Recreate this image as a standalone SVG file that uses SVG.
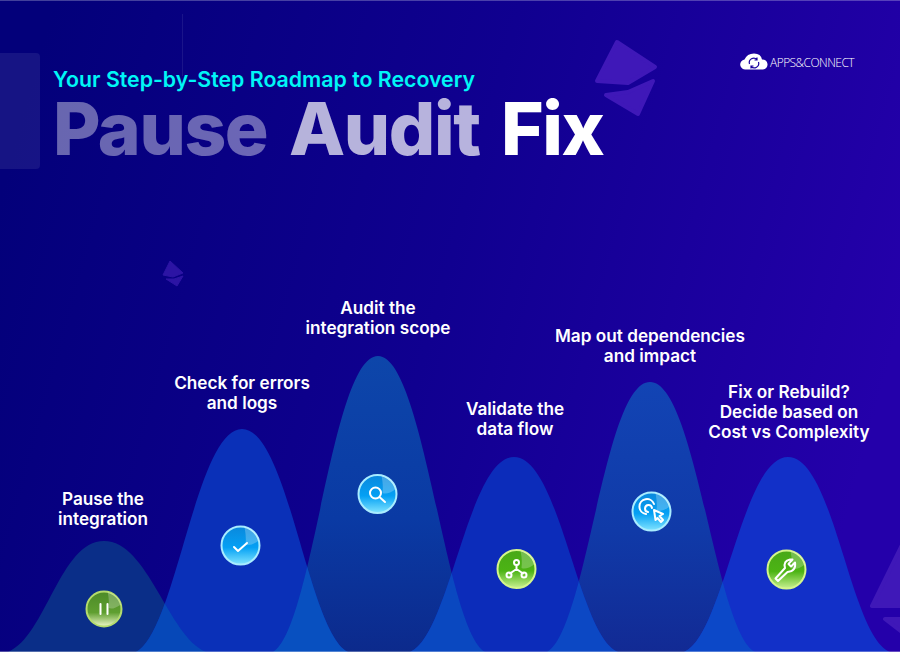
<svg xmlns="http://www.w3.org/2000/svg" width="900" height="652" viewBox="0 0 900 652">
<defs>
<linearGradient id="bg" x1="0" y1="0.3" x2="1" y2="0.5"><stop offset="0" stop-color="#03007a"/><stop offset="0.5" stop-color="#100090"/><stop offset="1" stop-color="#2400aa"/></linearGradient>
<linearGradient id="hill3g" x1="0" y1="0" x2="0" y2="1"><stop offset="0" stop-color="#0d46aa"/><stop offset="0.55" stop-color="#0a3aa4"/><stop offset="1" stop-color="#0c2a8c"/></linearGradient>
<linearGradient id="hill5g" x1="0" y1="0" x2="0" y2="1"><stop offset="0" stop-color="#1244b4"/><stop offset="0.55" stop-color="#103aa8"/><stop offset="1" stop-color="#122a94"/></linearGradient>
<linearGradient id="blue" x1="0" y1="0" x2="0" y2="1"><stop offset="0" stop-color="#0a88dc"/><stop offset="0.55" stop-color="#04a0f4"/><stop offset="1" stop-color="#80e4ff"/></linearGradient>
<linearGradient id="green" x1="0" y1="0" x2="0" y2="1"><stop offset="0" stop-color="#48a818"/><stop offset="0.55" stop-color="#4cb414"/><stop offset="1" stop-color="#c8f090"/></linearGradient>
<linearGradient id="olive" x1="0" y1="0" x2="0" y2="1"><stop offset="0" stop-color="#4c8a28"/><stop offset="0.6" stop-color="#5f9f30"/><stop offset="1" stop-color="#eef8c8"/></linearGradient>
<path id="h1" d="M8 652 C46 636 60 541 104 541 C148 541 168 636 206 652 Z"/>
<path id="h2" d="M136 652 C176 632 196 429 242 429 C288 429 308 632 348 652 Z"/>
<path id="h3" d="M273 652 C313 628 332 356 378 356 C424 356 445 628 485 652 Z"/>
<path id="h4" d="M410 652 C450 636 468 457 514 457 C560 457 578 636 618 652 Z"/>
<path id="h5" d="M547 652 C587 630 604 382 650 382 C696 382 715 630 755 652 Z"/>
<path id="h6" d="M684 652 C724 636 742 457 788 457 C834 457 850 636 890 652 Z"/>
<clipPath id="c1"><use href="#h1"/></clipPath>
<clipPath id="c3"><use href="#h3"/></clipPath>
<clipPath id="c5"><use href="#h5"/></clipPath>
<path id="gloss" d="M4 -18.500 A19 19 0 0 1 18.500 -5 Q10 1 5 -1 Q6 -8 4 -18.500 Z" fill="#fff" fill-opacity=".24"/>
</defs>
<style>
.lab{font-family:"Inter","Liberation Sans",sans-serif;font-weight:600;font-size:17.2px;fill:#fff;text-anchor:middle}
.ttl{font-family:"Inter","Liberation Sans",sans-serif;font-weight:800;font-size:73px;letter-spacing:-1.4px;fill:#fff}
.ringB{fill:url(#blue);stroke:#a8ecff;stroke-width:2}
.ringG{fill:url(#green);stroke:#d4f58c;stroke-width:2}
.ringO{fill:url(#olive);stroke:#b4dc6c;stroke-width:2}
.ico{fill:none;stroke:#fff;stroke-width:2;stroke-linecap:round;stroke-linejoin:round}
.deco{fill:#3f18b8;stroke:#3f18b8;stroke-width:4;stroke-linejoin:round}
</style>
<rect id="background" width="900" height="652" fill="url(#bg)"/>
<rect x="0" y="0" width="900" height="1" fill="#fff" fill-opacity=".25"/>
<g id="decor">
<rect x="-10" y="53" width="50" height="116" rx="4" fill="#fff" fill-opacity=".08"/>
<rect x="182" y="14" width="1" height="62" fill="#fff" fill-opacity=".08"/>
<path class="deco" d="M617 42 L655 67 L628 83 L597 81 Z M653 81 L638 114 L606 95 L628 92 Z"/>
<path class="deco" style="fill:#2c14a4;stroke:#2c14a4;stroke-width:1" d="M170 261 L183 273 L173 277 L163 275 Z M183 276 L177 286 L166 279 L174 279 Z"/>
<path class="deco" d="M902 545 L872 606 L902 606 Z M885 619 L902 619 L902 632 Z"/>
</g>
<g id="title">
<text x="53" y="87" font-family="Inter,'Liberation Sans',sans-serif" font-weight="600" font-size="21.300" fill="#00f6f6">Your Step-by-Step Roadmap to Recovery</text>
<text class="ttl" x="53" y="155" fill-opacity=".4">Pause</text>
<text class="ttl" x="289" y="155" fill-opacity=".7">Audit</text>
<text class="ttl" x="501" y="155">Fix</text>
</g>
<g id="logo">
<path d="M746 69.500 A5 5 0 0 1 744.500 59.500 Q747 53.500 754 53.500 Q761 53.500 762 59.500 A5 5 0 0 1 763 69.500 Z" fill="#fff"/>
<path d="M749.500 64 A4.500 4.500 0 0 1 757 59.500 M758.500 62 A4.500 4.500 0 0 1 751 66.500 M757 57.500 V60 H754.500 M751 68.500 V66 H753.500" fill="none" stroke="#1a00a0" stroke-width="1.200"/>
<text x="770" y="67" font-family="'Open Sans','Liberation Sans',sans-serif" font-weight="300" font-size="12" letter-spacing="-0.55" fill="#fff">APPS&amp;CONNECT</text>
</g>
<g id="connectors"/>
<g id="step1">
<use href="#h1" fill="#0a2e88"/>
<circle class="ringO" cx="104" cy="609" r="17.500"/>
<use href="#gloss" transform="translate(104 609) scale(.92)"/>
<path class="ico" d="M100.500 604 V614 M107.500 604 V614"/>
<text class="lab" x="103" y="505">Pause the</text><text class="lab" x="103" y="525">integration</text>
</g>
<g id="step3">
<use href="#h3" fill="url(#hill3g)"/>
<circle class="ringB" cx="377.500" cy="494" r="19"/>
<use href="#gloss" transform="translate(377.500 494)"/>
<circle class="ico" cx="375.500" cy="493" r="5.500"/><path class="ico" d="M380 497.500 L385 502"/>
<text class="lab" x="378" y="314">Audit the</text><text class="lab" x="378" y="334">integration scope</text>
</g>
<g id="step5">
<use href="#h5" fill="url(#hill5g)"/>
<circle class="ringB" cx="651.500" cy="511.500" r="19"/>
<use href="#gloss" transform="translate(651.500 511.500)"/>
<path class="ico" d="M654 504 A7.500 7.500 0 1 0 646 514 M652 508 A3.500 3.500 0 1 0 648 512" stroke-width="1.600"/><path class="ico" d="M654 510 L663 514 L659.500 516 L663 520 L661 522 L657.500 518 L655.500 520 Z" stroke-width="1.500"/>
<text class="lab" x="650" y="342">Map out dependencies</text><text class="lab" x="650" y="362">and impact</text>
</g>
<g id="step2">
<use href="#h2" fill="#0a30b8"/>
<use href="#h2" fill="#0648b8" clip-path="url(#c1)"/>
<use href="#h2" fill="#0850c0" clip-path="url(#c3)"/>
<circle class="ringB" cx="240.500" cy="545.500" r="19"/>
<use href="#gloss" transform="translate(240.500 545.500)"/>
<path class="ico" d="M234 547 L238 551 L247 543"/>
<text class="lab" x="242" y="389">Check for errors</text><text class="lab" x="242" y="409">and logs</text>
</g>
<g id="step4">
<use href="#h4" fill="#0c2cba"/>
<use href="#h4" fill="#0a48c0" clip-path="url(#c3)"/>
<use href="#h4" fill="#0c48c4" clip-path="url(#c5)"/>
<circle class="ringG" cx="516.500" cy="569" r="19"/>
<use href="#gloss" transform="translate(516.500 569)"/>
<path class="ico" d="M516.500 565 V569 L510 573.500 M516.500 569 L523 573.500"/><circle cx="516.500" cy="562.500" r="2.500" class="ico"/><circle cx="509" cy="575" r="2.500" class="ico"/><circle cx="524" cy="575" r="2.500" class="ico"/>
<text class="lab" x="515" y="415">Validate the</text><text class="lab" x="515" y="435">data flow</text>
</g>
<g id="step6">
<use href="#h6" fill="#1230c8"/>
<use href="#h6" fill="#0c48c8" clip-path="url(#c5)"/>
<circle class="ringG" cx="786.500" cy="569.500" r="19"/>
<use href="#gloss" transform="translate(786.500 569.500)"/>
<path class="ico" d="M778 581 L775.500 578.500 L785 568 Q783 561 790 559.500 L792.500 559.500 L788.500 564 L791 566.500 L795 562.500 Q796.500 571 787.500 572 Z" stroke-width="1.500"/>
<text class="lab" x="789" y="398">Fix or Rebuild?</text><text class="lab" x="789" y="418">Decide based on</text><text class="lab" x="789" y="438">Cost vs Complexity</text>
</g>
<rect x="0" y="651" width="900" height="1" fill="#fff" fill-opacity=".3"/>
</svg>
